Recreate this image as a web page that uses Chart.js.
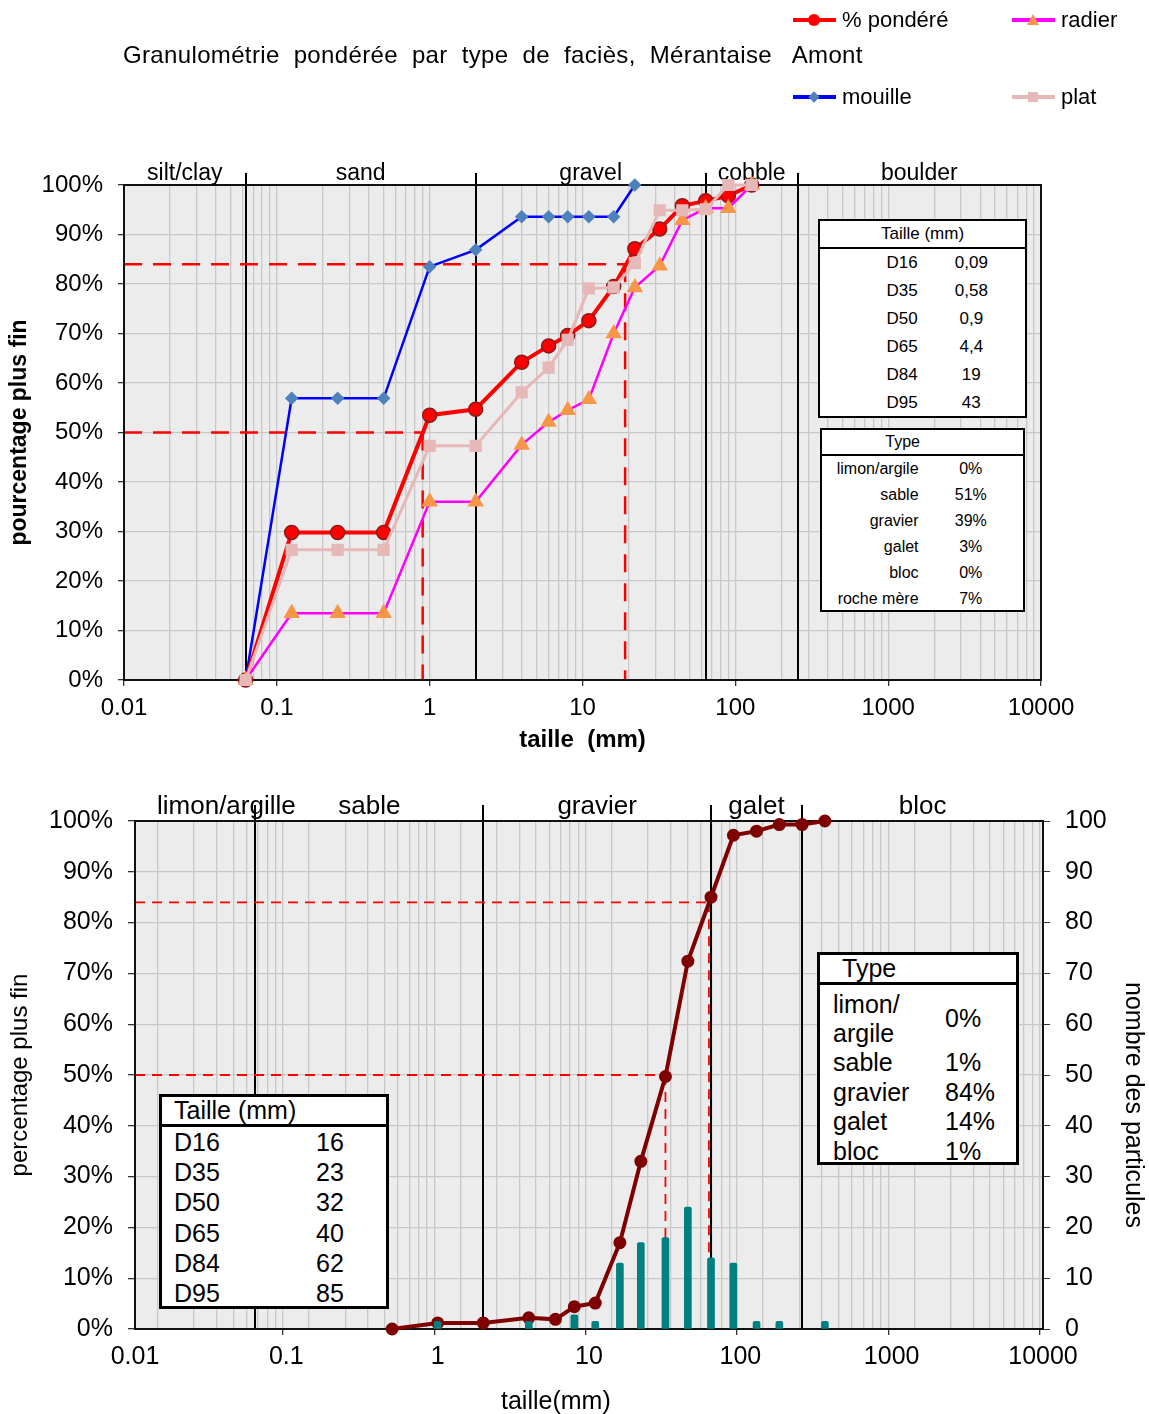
<!DOCTYPE html>
<html>
<head>
<meta charset="utf-8">
<script src="https://cdn.jsdelivr.net/npm/chart.js@4.4.0/dist/chart.umd.min.js"></script>
<style>
body { margin:0; background:#fff; font-family:"Liberation Sans", Arial, sans-serif; color:#000; }
#page { position:relative; width:1149px; height:1414px; overflow:hidden; }
.abs { position:absolute; }
.tbl { position:absolute; box-sizing:border-box; background:#fff; border:2px solid #000; }
.row { display:flex; align-items:center; white-space:nowrap; }
.leg-line { position:absolute; height:4px; }
.leg-txt { position:absolute; font-size:22px; line-height:26px; }
</style>
</head>
<body>
<div id="page">
  <div class="abs" style="left:0;top:0;width:1149px;height:760px"><canvas id="chartTop"></canvas></div>
  <div class="abs" style="left:0;top:760px;width:1149px;height:654px"><canvas id="chartBottom"></canvas></div>
  <div class="abs" id="title" style="left:123px;top:40px;font-size:24px;line-height:30px;white-space:pre;letter-spacing:0.35px"></div>
  <div class="abs" id="xTitleB" style="left:501px;top:1386px;font-size:25px;line-height:28px;white-space:nowrap"></div>
  <div class="abs" id="yTitleB2" style="left:1120px;top:982px;font-size:25px;line-height:30px;writing-mode:vertical-rl;white-space:nowrap"></div>
  <div id="legend"></div>
  <div id="tables"></div>
</div>
<script>
// ---- data, top chart (weighted granulometry by facies type)
const sizes = [0.0625, 0.125, 0.25, 0.5, 1, 2, 4, 6, 8, 11, 16, 22, 32, 45, 64, 90, 128];
const pondere = [0, 29.8, 29.8, 29.8, 53.5, 54.7, 64.2, 67.5, 69.6, 72.6, 79.5, 87.1, 91.1, 95.8, 96.8, 97.8, 100];
const radier = [0, 13.5, 13.5, 13.5, 36.0, 36.0, 47.5, 52.1, 54.5, 56.7, 70.0, 79.3, 83.7, 92.9, 95.3, 95.3, 100];
const mouille = [0, 56.9, 56.9, 56.9, 83.5, 86.9, 93.6, 93.6, 93.6, 93.6, 93.6, 100];
const plat = [0, 26.3, 26.3, 26.3, 47.3, 47.3, 58.1, 63.1, 68.7, 79.1, 79.3, 84.2, 94.9, 94.9, 95.1, 100, 100];
const seriesNames = ['% pondéré', 'radier', 'mouille', 'plat'];

const classLimits = [0.0625, 2, 64, 256];
const classesTop = ['silt/clay', 'sand', 'gravel', 'cobble', 'boulder'];
const classesBottom = ['limon/argille', 'sable', 'gravier', 'galet', 'bloc'];

const dNames = ['D16', 'D35', 'D50', 'D65', 'D84', 'D95'];
const dTop = ['0,09', '0,58', '0,9', '4,4', '19', '43'];
const typeTop = ['limon/argile', 'sable', 'gravier', 'galet', 'bloc', 'roche mère'];
const typeTopPct = ['0%', '51%', '39%', '3%', '0%', '7%'];

// ---- data, bottom chart (pebble count)
const sizesB = [0.5, 1, 2, 4, 6, 8, 11, 16, 22, 32, 45, 64, 90, 128, 181, 256, 362];
const cumulB = [0, 1.2, 1.2, 2.2, 1.9, 4.4, 5.1, 17.0, 33.0, 49.7, 72.4, 85.0, 97.2, 98.0, 99.3, 99.3, 100];
const barSizes = [1, 4, 8, 11, 16, 22, 32, 45, 64, 90, 128, 181, 362];
const counts = [1.5, 1.5, 2.8, 1.5, 13, 17, 18, 24, 14, 13, 1.5, 1.5, 1.5];
const dBottom = ['16', '23', '32', '40', '62', '85'];
const typeBottom = ['limon/\nargile', 'sable', 'gravier', 'galet', 'bloc'];
const typeBottomPct = ['0%', '1%', '84%', '14%', '1%'];

const num = s => parseFloat(s.replace(',', '.'));
const gridGray = '#c8c8c8';

Chart.defaults.font.family = '"Liberation Sans", Arial, sans-serif';
Chart.defaults.color = '#000';

function logTickValues(min, max) {
  const out = [];
  for (let e = Math.round(Math.log10(min)); e < Math.round(Math.log10(max)); e++) {
    for (let k = 1; k <= 9; k++) out.push(parseFloat((k * Math.pow(10, e)).toPrecision(3)));
  }
  out.push(max);
  return out;
}
function isDecade(v) {
  const l = Math.log10(v);
  return Math.abs(l - Math.round(l)) < 1e-6;
}
const pts = (xs, ys) => ys.map((y, i) => ({ x: xs[i], y: y }));

// background, class lines, dashed D50/D84 guides, frame, class names
const deco = {
  id: 'deco',
  beforeDraw(chart, args, o) {
    const { ctx, chartArea: a } = chart;
    ctx.save();
    ctx.fillStyle = '#ececec';
    ctx.fillRect(a.left, a.top, a.right - a.left, a.bottom - a.top);
    ctx.restore();
  },
  beforeDatasetsDraw(chart, args, o) {
    const { ctx, chartArea: a } = chart;
    const xs = chart.scales.x, ys = chart.scales.y;
    ctx.save();
    ctx.strokeStyle = '#000';
    ctx.lineWidth = 2;
    classLimits.forEach(v => {
      const px = Math.round(xs.getPixelForValue(v));
      ctx.beginPath(); ctx.moveTo(px, a.top - o.over); ctx.lineTo(px, a.bottom); ctx.stroke();
    });
    ctx.strokeStyle = '#ff0000';
    ctx.lineWidth = o.dashWidth;
    ctx.setLineDash(o.dash);
    o.guides.forEach(g => {
      const px = xs.getPixelForValue(g.d), py = ys.getPixelForValue(g.p);
      ctx.beginPath(); ctx.moveTo(a.left, py); ctx.lineTo(px, py); ctx.stroke();
      ctx.beginPath(); ctx.moveTo(px, py); ctx.lineTo(px, a.bottom); ctx.stroke();
    });
    ctx.setLineDash([]);
    ctx.strokeStyle = '#111';
    ctx.lineWidth = 2;
    ctx.strokeRect(a.left, a.top, a.right - a.left, a.bottom - a.top);
    ctx.fillStyle = '#000';
    ctx.font = o.font + 'px "Liberation Sans", Arial, sans-serif';
    ctx.textAlign = 'center';
    ctx.textBaseline = 'alphabetic';
    const lims = [xs.min].concat(classLimits, [xs.max]);
    o.names.forEach((n, i) => {
      let cx = xs.getPixelForValue(Math.sqrt(lims[i] * lims[i + 1]));
      const w = ctx.measureText(n).width;
      if (cx - w / 2 < a.left + 22) cx = a.left + 22 + w / 2;
      ctx.fillText(n, cx, a.top - o.lift);
    });
    ctx.restore();
  }
};

function xAxis(height, size, pad, title, bold, tpad) {
  return {
    type: 'logarithmic', min: 0.01, max: 10000,
    afterBuildTicks: s => { s.ticks = logTickValues(0.01, 10000).map(v => ({ value: v })); },
    afterFit: s => { s.height = height; },
    ticks: { autoSkip: false, maxRotation: 0, minRotation: 0, padding: pad, font: { size: size },
      callback: v => isDecade(v) ? String(Number(v.toPrecision(1))) : '' },
    grid: { color: gridGray, lineWidth: 1.3, tickLength: 6,
      tickColor: c => (c.tick && isDecade(c.tick.value)) ? '#333' : 'rgba(0,0,0,0)' },
    border: { display: false },
    title: { display: !!title, text: title, font: { size: size, weight: bold ? 'bold' : 'normal' }, padding: { top: 0, bottom: tpad } }
  };
}

// ---- top chart
new Chart(document.getElementById('chartTop'), {
  type: 'line',
  data: {
    datasets: [
      { label: seriesNames[3], data: pts(sizes, plat), borderColor: '#e6b9b8', borderWidth: 3,
        pointStyle: 'rect', pointRadius: 6.5, pointBackgroundColor: '#e6b9b8', pointBorderColor: '#e6b9b8', clip: false },
      { label: seriesNames[1], data: pts(sizes, radier), borderColor: '#ff00ff', borderWidth: 2.5,
        pointStyle: 'triangle', pointRadius: 7, pointBackgroundColor: '#f79646', pointBorderColor: '#f79646', clip: false },
      { label: seriesNames[0], data: pts(sizes, pondere), borderColor: '#ff0000', borderWidth: 4,
        pointStyle: 'circle', pointRadius: 7, pointBackgroundColor: '#ff0000', pointBorderColor: '#8b1a1a', pointBorderWidth: 1.5, clip: false },
      { label: seriesNames[2], data: pts(sizes, mouille), borderColor: '#0000ff', borderWidth: 2.5,
        pointStyle: 'rectRot', pointRadius: 5, pointBackgroundColor: '#4f81bd', pointBorderColor: '#4f81bd', clip: false }
    ]
  },
  options: {
    responsive: true, maintainAspectRatio: false, animation: false, devicePixelRatio: 1, events: [],
    layout: { padding: { top: 185, right: 108, left: 0, bottom: 0 } },
    plugins: { legend: { display: false }, tooltip: { enabled: false },
      deco: { over: 12, lift: 5, font: 23, names: classesTop, dash: [18, 11], dashWidth: 2.5,
        guides: [{ d: num(dTop[2]), p: 50 }, { d: num(dTop[4]), p: 84 }] } },
    scales: {
      x: xAxis(80, 24, 8, 'taille  (mm)', true, 5),
      y: { min: 0, max: 100, afterFit: s => { s.width = 124; },
        ticks: { stepSize: 10, padding: 15, font: { size: 24 }, callback: v => v + '%' },
        grid: { color: gridGray, lineWidth: 1.3, tickColor: '#333', tickLength: 6 },
        border: { display: false },
        title: { display: true, text: 'pourcentage plus fin', font: { size: 23, weight: 'bold' }, padding: { top: 6, bottom: 0 } } }
    }
  },
  plugins: [deco]
});

// ---- bottom chart
new Chart(document.getElementById('chartBottom'), {
  type: 'line',
  data: {
    datasets: [
      { type: 'bar', data: pts(barSizes, counts), yAxisID: 'y2', backgroundColor: '#008080',
        barThickness: 7, borderRadius: { topLeft: 2, topRight: 2 }, borderSkipped: 'bottom' },
      { type: 'line', data: pts(sizesB, cumulB), yAxisID: 'y', borderColor: '#7f0000', borderWidth: 4,
        pointRadius: 4.5, pointBackgroundColor: '#7f0000', pointBorderColor: '#7f0000', clip: false }
    ]
  },
  options: {
    responsive: true, maintainAspectRatio: false, animation: false, devicePixelRatio: 1, events: [],
    layout: { padding: { top: 61, right: 0, left: 0, bottom: 0 } },
    plugins: { legend: { display: false }, tooltip: { enabled: false },
      deco: { over: 16, lift: 7, font: 26, names: classesBottom, dash: [10, 7], dashWidth: 1.8,
        guides: [{ d: num(dBottom[2]), p: 50 }, { d: num(dBottom[4]), p: 84 }] } },
    scales: {
      x: xAxis(85, 25, 7, '', false, 0),
      y: { position: 'left', min: 0, max: 100, afterFit: s => { s.width = 135; },
        ticks: { stepSize: 10, padding: 15, font: { size: 25 }, callback: v => v + '%' },
        grid: { color: gridGray, lineWidth: 1.3, tickColor: '#333', tickLength: 7 },
        border: { display: false },
        title: { display: true, text: 'percentage plus fin', font: { size: 24 }, padding: { top: 6, bottom: 0 } } },
      y2: { position: 'right', min: 0, max: 100, afterFit: s => { s.width = 106; },
        ticks: { stepSize: 10, padding: 15, font: { size: 25 } },
        grid: { drawOnChartArea: false, tickColor: '#333', tickLength: 7 },
        border: { display: false } }
    }
  },
  plugins: [deco]
});

// ---- titles and legend
document.getElementById('title').textContent = 'Granulométrie  pondérée  par  type  de  faciès,  Mérantaise   Amont';
document.getElementById('xTitleB').textContent = 'taille(mm)';
document.getElementById('yTitleB2').textContent = 'nombre des particules';

const legendItems = [
  { name: seriesNames[0], x: 793, y: 20, line: '#ff0000', mark: 'circle', fill: '#ff0000' },
  { name: seriesNames[1], x: 1012, y: 20, line: '#ff00ff', mark: 'tri', fill: '#f79646' },
  { name: seriesNames[2], x: 793, y: 97, line: '#0000ff', mark: 'dia', fill: '#4f81bd' },
  { name: seriesNames[3], x: 1012, y: 97, line: '#e6b9b8', mark: 'sq', fill: '#e6b9b8' }
];
let lh = '';
legendItems.forEach(it => {
  lh += `<div class="leg-line" style="left:${it.x}px;top:${it.y - 2}px;width:43px;background:${it.line}"></div>`;
  const cx = it.x + 21, cy = it.y;
  if (it.mark === 'circle') lh += `<div class="abs" style="left:${cx - 6}px;top:${cy - 6}px;width:12px;height:12px;border-radius:6px;background:${it.fill}"></div>`;
  if (it.mark === 'tri') lh += `<div class="abs" style="left:${cx - 6}px;top:${cy - 6}px;width:12px;height:11px;background:${it.fill};clip-path:polygon(50% 0,100% 100%,0 100%)"></div>`;
  if (it.mark === 'dia') lh += `<div class="abs" style="left:${cx - 4}px;top:${cy - 4}px;width:8px;height:8px;background:${it.fill};transform:rotate(45deg)"></div>`;
  if (it.mark === 'sq') lh += `<div class="abs" style="left:${cx - 5}px;top:${cy - 5}px;width:10px;height:10px;background:${it.fill}"></div>`;
  lh += `<div class="leg-txt" style="left:${it.x + 49}px;top:${it.y - 13}px">${it.name}</div>`;
});
document.getElementById('legend').innerHTML = lh;

// ---- tables
let th = '';
// top: sizes
th += `<div class="tbl" style="left:818px;top:219px;width:209px;height:199px;font-size:17px">
  <div style="height:26px;line-height:26px;text-align:center;border-bottom:2px solid #000">Taille (mm)</div>`;
dNames.forEach((d, i) => {
  th += `<div class="row" style="height:28px"><span style="width:100px;text-align:right">${d}</span><span style="width:110px;text-align:center">${dTop[i]}</span></div>`;
});
th += `</div>`;
// top: types
th += `<div class="tbl" style="left:820px;top:428px;width:205px;height:184px;font-size:16px">
  <div class="row" style="height:24px;border-bottom:2px solid #000"><span style="width:98px;text-align:right">Type</span></div>`;
typeTop.forEach((t, i) => {
  th += `<div class="row" style="height:26px"><span style="width:98px;text-align:right">${t}</span><span style="width:106px;text-align:center">${typeTopPct[i]}</span></div>`;
});
th += `</div>`;
// bottom: sizes
th += `<div class="tbl" style="left:159px;top:1094px;width:230px;height:215px;font-size:25px;border-width:3px">
  <div class="row" style="height:27px;padding-left:12px;border-bottom:3px solid #000">Taille (mm)</div>`;
dNames.forEach((d, i) => {
  th += `<div class="row" style="height:30.3px;padding-left:12px"><span style="width:142px">${d}</span><span>${dBottom[i]}</span></div>`;
});
th += `</div>`;
// bottom: types
th += `<div class="tbl" style="left:817px;top:952px;width:202px;height:213px;font-size:25px;border-width:3px">
  <div class="row" style="height:27px;padding-left:22px;border-bottom:3px solid #000">Type</div><div style="height:4px"></div>`;
typeBottom.forEach((t, i) => {
  const two = t.indexOf('\n') >= 0;
  th += `<div class="row" style="height:${two ? 59 : 29.5}px;padding-left:13px;line-height:29px"><span style="width:112px;white-space:pre-line">${t}</span><span>${typeBottomPct[i]}</span></div>`;
});
th += `</div>`;
document.getElementById('tables').innerHTML = th;
</script>
</body>
</html>
